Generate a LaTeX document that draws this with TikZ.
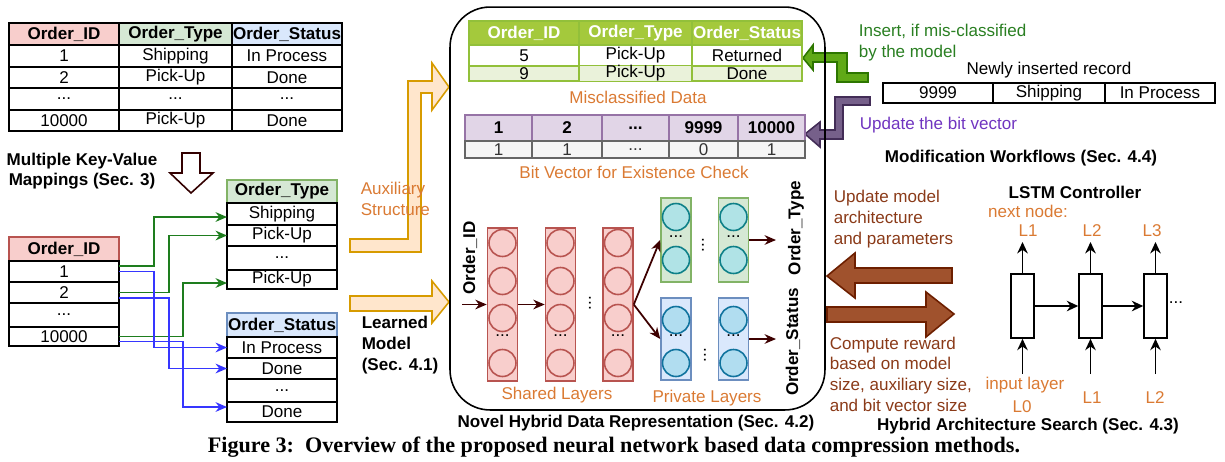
\documentclass[tikz,border=0pt]{standalone}
\usepackage{fontspec}
\setmainfont{Liberation Serif}
\setsansfont{Liberation Sans}
\usetikzlibrary{arrows.meta}

\definecolor{idfill}{HTML}{F8CECC}
\definecolor{iddraw}{HTML}{B85450}
\definecolor{typefill}{HTML}{D5E8D4}
\definecolor{typedraw}{HTML}{82B366}
\definecolor{statfill}{HTML}{DAE8FC}
\definecolor{statdraw}{HTML}{6C8EBF}
\definecolor{mchead}{HTML}{A4C93C}
\definecolor{mcdraw}{HTML}{92C03A}
\definecolor{mclight}{HTML}{EAF2DA}
\definecolor{bvfill}{HTML}{E1D5E7}
\definecolor{bvdraw}{HTML}{9673A6}
\definecolor{bitfill}{HTML}{F5F5F5}
\definecolor{bitdraw}{HTML}{666666}
\definecolor{bittext}{HTML}{333333}
\definecolor{gcfill}{HTML}{B0E3E6}
\definecolor{gcdraw}{HTML}{0E8088}
\definecolor{bcfill}{HTML}{B1DDF0}
\definecolor{bcdraw}{HTML}{10739E}
\definecolor{ortext}{HTML}{DA7A33}
\definecolor{orfill}{HTML}{FFE6CC}
\definecolor{ordraw}{HTML}{D79B00}
\definecolor{insfill}{HTML}{60A917}
\definecolor{insdraw}{HTML}{2D7600}
\definecolor{instext}{HTML}{2A7F22}
\definecolor{updfill}{HTML}{76608A}
\definecolor{upddraw}{HTML}{432D57}
\definecolor{updtext}{HTML}{7035C0}
\definecolor{hasfill}{HTML}{A0522D}
\definecolor{hasdraw}{HTML}{6D1F00}
\definecolor{hastext}{HTML}{8A3A18}
\definecolor{nnred}{HTML}{3D0000}
\definecolor{mapgreen}{HTML}{1E7D1E}
\definecolor{mapblue}{HTML}{3636FF}
\definecolor{kvdraw}{HTML}{330000}

\newcommand{\dfont}{\sffamily\fontsize{9.7}{11.8}\selectfont}

\tikzset{
  cell/.style={draw, inner sep=0pt, outer sep=0pt, font=\dfont},
  hd/.style={cell, font=\dfont\bfseries},
  otext/.style={text=ortext, inner sep=0pt, font=\dfont},
  title/.style={font=\dfont\bfseries, inner sep=0pt},
  shared/.style={draw=iddraw, fill=idfill, inner sep=0pt, minimum width=0.6cm, minimum height=3.06cm},
  scirc/.style={circle, draw=iddraw, fill=idfill, inner sep=0pt, minimum size=0.54cm},
  prigreen/.style={draw=typedraw, fill=typefill, inner sep=0pt, minimum width=0.6cm, minimum height=1.68cm},
  gcirc/.style={circle, draw=gcdraw, fill=gcfill, inner sep=0pt, minimum size=0.54cm},
  priblue/.style={draw=statdraw, fill=statfill, inner sep=0pt, minimum width=0.6cm, minimum height=1.64cm},
  bcirc/.style={circle, draw=bcdraw, fill=bcfill, inner sep=0pt, minimum size=0.54cm},
  ndots/.style={inner sep=0pt, font=\dfont},
  lstm/.style={draw, inner sep=0pt, minimum width=0.46cm, minimum height=1.28cm},
  nnarrow/.style={draw=nnred, line width=1pt, -{Stealth[length=6.5pt,width=5.5pt]}},
  ctrl/.style={line width=1pt, -{Stealth[length=6.5pt,width=6pt]}},
  gline/.style={draw=mapgreen, line width=1.1pt, -{Stealth[length=6.5pt,width=5.5pt]}},
  bline/.style={draw=mapblue, line width=1.1pt, -{Stealth[length=6.5pt,width=5.5pt]}},
}

\begin{document}
\begin{tikzpicture}[x=0.02cm, y=-0.02cm, line width=0.9pt, font=\dfont]

	\useasboundingbox (0,0) rectangle (1225,461);

	% === ORIGINAL TABLE === (((
	\node[hd, fill=idfill, minimum width=2.2cm, minimum height=0.44cm] (t01) at (64,34) {Order\_ID};
	\node[hd, fill=typefill, minimum width=2.26cm, minimum height=0.44cm] (t02) at (175.5,34) {Order\_Type};
	\node[hd, fill=statfill, minimum width=2.2cm, minimum height=0.44cm] (t03) at (287,34) {Order\_Status};

	\node[cell, minimum width=2.2cm, minimum height=0.43cm] (t11) at (64,56) {1};
	\node[cell, minimum width=2.26cm, minimum height=0.43cm] (t12) at (175.5,56) {Shipping};
	\node[cell, minimum width=2.2cm, minimum height=0.43cm] (t13) at (287,56) {In Process};

	\node[cell, minimum width=2.2cm, minimum height=0.43cm] (t21) at (64,77.5) {2};
	\node[cell, minimum width=2.26cm, minimum height=0.43cm] (t22) at (175.5,77.5) {Pick-Up};
	\node[cell, minimum width=2.2cm, minimum height=0.43cm] (t23) at (287,77.5) {Done};

	\node[cell, minimum width=2.2cm, minimum height=0.43cm] (t31) at (64,99) {...};
	\node[cell, minimum width=2.26cm, minimum height=0.43cm] (t32) at (175.5,99) {...};
	\node[cell, minimum width=2.2cm, minimum height=0.43cm] (t33) at (287,99) {...};

	\node[cell, minimum width=2.2cm, minimum height=0.43cm] (t41) at (64,120.5) {10000};
	\node[cell, minimum width=2.26cm, minimum height=0.43cm] (t42) at (175.5,120.5) {Pick-Up};
	\node[cell, minimum width=2.2cm, minimum height=0.43cm] (t43) at (287,120.5) {Done};
	% )))

	% === KEY-VALUE MAPPINGS === (((
	\draw[draw=kvdraw, fill=white] (182,153) -- (200,153) -- (200,173) -- (213,173) -- (191,193) -- (170,173) -- (182,173) -- cycle;
	\node[title, align=center] (kvtitle) at (82,171) {Multiple Key-Value\\Mappings (Sec. 3)};

	\node[hd, fill=idfill, draw=iddraw, minimum width=2.2cm, minimum height=0.48cm] (id0) at (64,249) {Order\_ID};
	\node[cell, minimum width=2.2cm, minimum height=0.42cm] (id1) at (64,271.5) {1};
	\node[cell, minimum width=2.2cm, minimum height=0.42cm] (id2) at (64,292.5) {2};
	\node[cell, minimum width=2.2cm, minimum height=0.48cm] (id3) at (64,315) {...};
	\node[cell, minimum width=2.2cm, minimum height=0.38cm] (id4) at (64,336.5) {10000};

	\node[hd, fill=typefill, draw=typedraw, minimum width=2.2cm, minimum height=0.46cm] (ty0) at (282,191.5) {Order\_Type};
	\node[cell, minimum width=2.2cm, minimum height=0.44cm] (ty1) at (282,214) {Shipping};
	\node[cell, minimum width=2.2cm, minimum height=0.42cm] (ty2) at (282,235.5) {Pick-Up};
	\node[cell, minimum width=2.2cm, minimum height=0.48cm] (ty3) at (282,258) {...};
	\node[cell, minimum width=2.2cm, minimum height=0.38cm] (ty4) at (282,279.5) {Pick-Up};

	\node[hd, fill=statfill, draw=statdraw, minimum width=2.2cm, minimum height=0.48cm] (st0) at (282,325) {Order\_Status};
	\node[cell, minimum width=2.2cm, minimum height=0.42cm] (st1) at (282,347.5) {In Process};
	\node[cell, minimum width=2.2cm, minimum height=0.42cm] (st2) at (282,368.5) {Done};
	\node[cell, minimum width=2.2cm, minimum height=0.46cm] (st3) at (282,390.5) {...};
	\node[cell, minimum width=2.2cm, minimum height=0.40cm] (st4) at (282,412) {Done};

	\draw[gline] ([yshift=0.11cm]id1.east) -- ++(35,0) |- ([yshift=-0.06cm]ty1.west);
	\draw[gline] (id2.east) -- ++(50,0) |- (ty2.west);
	\draw[gline] (id4.east) -- ++(64,0) |- ([yshift=-0.07cm]ty4.west);

	\draw[bline] (id1.east) -- ++(35,0) |- (st1.west);
	\draw[bline] ([yshift=-0.11cm]id2.east) -- ++(50,0) |- (st2.west);
	\draw[bline] ([yshift=-0.1cm]id4.east) -- ++(64,0) |- ([yshift=0.1cm]st4.west);
	% )))

	% === INPUT ARROWS === (((
	\draw[draw=ordraw, fill=orfill] (350,239) -- (408,239) -- (408,81) -- (432,81) -- (432,63) -- (449,87) -- (432,110) -- (432,93) -- (421,93) -- (421,252) -- (350,252) -- cycle;
	\draw[draw=ordraw, fill=orfill] (350,296) -- (432,296) -- (432,281) -- (449,302) -- (432,323) -- (432,311) -- (350,311) -- cycle;

	\node[otext, anchor=west, align=left] (aux) at (360,199) {Auxiliary\\Structure};
	\node[title, anchor=west, align=left] (learned) at (361,345) {Learned\\Model\\(Sec. 4.1)};
	% )))

	% === MODIFICATION ARROWS === (((
	\draw[draw=insdraw, fill=insfill] (803,58) -- (813,45) -- (813,53) -- (847,53) -- (847,73) -- (868,73) -- (868,82) -- (837,82) -- (837,62) -- (813,62) -- (813,70) -- cycle;
	\draw[draw=upddraw, fill=updfill] (805,134) -- (820,122) -- (820,130) -- (835,130) -- (835,97) -- (870,97) -- (870,105) -- (843,105) -- (843,139) -- (820,139) -- (820,147) -- cycle;
	% )))

	% === HYBRID REPRESENTATION === (((
	\node[draw, rounded corners=0.8cm, inner sep=0pt, minimum width=7.5cm, minimum height=8.06cm] (hybrid) at (637.5,208.5) {};
	\node[title] (hybtitle) at (636,423) {Novel Hybrid Data Representation (Sec. 4.2)};

	\node[hd, fill=mchead, draw=mcdraw, text=white, minimum width=2.2cm, minimum height=0.48cm] (mc01) at (524,33) {Order\_ID};
	\node[hd, fill=mchead, draw=mcdraw, text=white, minimum width=2.26cm, minimum height=0.48cm] (mc02) at (635.5,33) {Order\_Type};
	\node[hd, fill=mchead, draw=mcdraw, text=white, minimum width=2.2cm, minimum height=0.48cm] (mc03) at (747,33) {Order\_Status};

	\node[cell, fill=white, draw=mcdraw, minimum width=2.2cm, minimum height=0.42cm] (mc11) at (524,55.5) {5};
	\node[cell, fill=white, draw=mcdraw, minimum width=2.26cm, minimum height=0.42cm] (mc12) at (635.5,55.5) {Pick-Up};
	\node[cell, fill=white, draw=mcdraw, minimum width=2.2cm, minimum height=0.42cm] (mc13) at (747,55.5) {Returned};

	\node[cell, fill=mclight, draw=mcdraw, minimum width=2.2cm, minimum height=0.3cm] (mc21) at (524,73.5) {9};
	\node[cell, fill=mclight, draw=mcdraw, minimum width=2.26cm, minimum height=0.3cm] (mc22) at (635.5,73.5) {Pick-Up};
	\node[cell, fill=mclight, draw=mcdraw, minimum width=2.2cm, minimum height=0.3cm] (mc23) at (747,73.5) {Done};

	\node[otext] (mclabel) at (638,97) {Misclassified Data};

	\node[hd, fill=bvfill, draw=bvdraw, minimum width=1.34cm, minimum height=0.52cm] (bv01) at (498.5,128) {1};
	\node[hd, fill=bvfill, draw=bvdraw, minimum width=1.4cm, minimum height=0.52cm] (bv02) at (567,128) {2};
	\node[hd, fill=bvfill, draw=bvdraw, minimum width=1.34cm, minimum height=0.52cm] (bv03) at (635.5,128) {...};
	\node[hd, fill=bvfill, draw=bvdraw, minimum width=1.38cm, minimum height=0.52cm] (bv04) at (703.5,128) {9999};
	\node[hd, fill=bvfill, draw=bvdraw, minimum width=1.34cm, minimum height=0.52cm] (bv05) at (771.5,128) {10000};

	\node[cell, fill=bitfill, draw=bitdraw, text=bittext, minimum width=1.34cm, minimum height=0.34cm] (bv11) at (498.5,149.5) {1};
	\node[cell, fill=bitfill, draw=bitdraw, text=bittext, minimum width=1.4cm, minimum height=0.34cm] (bv12) at (567,149.5) {1};
	\node[cell, fill=bitfill, draw=bitdraw, text=bittext, minimum width=1.34cm, minimum height=0.34cm] (bv13) at (635.5,149.5) {...};
	\node[cell, fill=bitfill, draw=bitdraw, text=bittext, minimum width=1.38cm, minimum height=0.34cm] (bv14) at (703.5,149.5) {0};
	\node[cell, fill=bitfill, draw=bitdraw, text=bittext, minimum width=1.34cm, minimum height=0.34cm] (bv15) at (771.5,149.5) {1};

	\node[otext] (bvlabel) at (634,172) {Bit Vector for Existence Check};
	% )))

	% === NETWORK === (((
	\node[shared] (sl1) at (502.5,304.5) {};
	\node[scirc] (s11) at (502.5,243) {};
	\node[scirc] (s12) at (502.5,281) {};
	\node[scirc] (s13) at (502.5,318) {};
	\node[ndots] at (502.5,336) {...};
	\node[scirc] (s14) at (502.5,363) {};

	\node[shared] (sl2) at (560.5,304.5) {};
	\node[scirc] (s21) at (560.5,243) {};
	\node[scirc] (s22) at (560.5,281) {};
	\node[scirc] (s23) at (560.5,318) {};
	\node[ndots] at (560.5,336) {...};
	\node[scirc] (s24) at (560.5,363) {};

	\node[ndots, rotate=90] at (590,303) {...};

	\node[shared] (sl3) at (618,304.5) {};
	\node[scirc] (s31) at (618,243) {};
	\node[scirc] (s32) at (618,281) {};
	\node[scirc] (s33) at (618,318) {};
	\node[ndots] at (618,336) {...};
	\node[scirc] (s34) at (618,363) {};

	\node[prigreen] (gr1) at (676,240) {};
	\node[gcirc] (g11) at (676,217) {};
	\node[ndots] at (676,237) {...};
	\node[gcirc] (g12) at (676,260) {};

	\node[ndots, rotate=90] at (703,245) {...};

	\node[prigreen] (gr2) at (733.5,240) {};
	\node[gcirc] (g21) at (733.5,217) {};
	\node[ndots] at (733.5,237) {...};
	\node[gcirc] (g22) at (733.5,260) {};

	\node[priblue] (bl1) at (676,339) {};
	\node[bcirc] (b11) at (676,320) {};
	\node[ndots] at (676,336) {...};
	\node[bcirc] (b12) at (676,363) {};

	\node[ndots, rotate=90] at (705,355) {...};

	\node[priblue] (bl2) at (733.5,339) {};
	\node[bcirc] (b21) at (733.5,320) {};
	\node[ndots] at (733.5,336) {...};
	\node[bcirc] (b22) at (733.5,363) {};

	\node[title, rotate=90] (inlabel) at (470,258) {Order\_ID};
	\node[title, rotate=90] (outtype) at (796,228) {Order\_Type};
	\node[title, rotate=90] (outstat) at (793,342) {Order\_Status};

	\coordinate (nnin) at (462,304.5);
	\coordinate (outT) at (776,240);
	\coordinate (outS) at (776,339);

	\draw[nnarrow] (nnin) -- (sl1.west);
	\draw[nnarrow] (sl1.east) -- (sl2.west);
	\draw[nnarrow] (sl3.east) -- (gr1.west);
	\draw[nnarrow] (sl3.east) -- (bl1.west);
	\draw[nnarrow] (gr2.east) -- (outT);
	\draw[nnarrow] (bl2.east) -- (outS);

	\node[otext] (shlabel) at (557,395) {Shared Layers};
	\node[otext] (prlabel) at (707,398) {Private Layers};
	% )))

	% === MODIFICATION WORKFLOWS === (((
	\node[text=instext, anchor=west, align=left, inner sep=0pt] (instxt) at (858,42.5) {Insert, if mis-classified\\by the model};
	\node[inner sep=0pt] (nrtitle) at (1049,70) {Newly inserted record};
	\node[cell, minimum width=2.2cm, minimum height=0.4cm] (nr1) at (938,93) {9999};
	\node[cell, minimum width=2.24cm, minimum height=0.4cm] (nr2) at (1049,93) {Shipping};
	\node[cell, minimum width=2.2cm, minimum height=0.4cm] (nr3) at (1160,93) {In Process};
	\node[text=updtext, anchor=west, inner sep=0pt] (updtxt) at (859,125) {Update the bit vector};
	\node[title] (modtitle) at (1021,158) {Modification Workflows (Sec. 4.4)};
	% )))

	% === ARCHITECTURE SEARCH === (((
	\draw[draw=hasdraw, fill=hasfill] (952,268) -- (855,268) -- (855,253) -- (827,276) -- (855,298) -- (855,283) -- (952,283) -- cycle;
	\draw[draw=hasdraw, fill=hasfill] (827,307) -- (926,307) -- (926,292) -- (954,314) -- (926,337) -- (926,322) -- (827,322) -- cycle;

	\node[text=hastext, anchor=west, align=left, inner sep=0pt] (updmodel) at (833,219) {Update model\\architecture\\and parameters};
	\node[text=hastext, anchor=west, align=left, inner sep=0pt] (reward) at (829,374) {Compute reward\\based on model\\size, auxiliary size,\\and bit vector size};

	\node[title] (lstmtitle) at (1075,192) {LSTM Controller};
	\node[otext] (nextnode) at (1028,211) {next node:};

	\node[lstm] (lb1) at (1022.5,306) {};
	\node[lstm] (lb2) at (1090.5,306) {};
	\node[lstm] (lb3) at (1155.5,306) {};
	\node[ndots] (more) at (1176,303) {...};

	\node[otext] (nx1) at (1028,231) {L1};
	\node[otext] (nx2) at (1092,231) {L2};
	\node[otext] (nx3) at (1152,231) {L3};

	\node[otext] (inlayer) at (1025,385) {input layer};
	\node[otext] (in0) at (1022,407) {L0};
	\node[otext] (in1) at (1092,398) {L1};
	\node[otext] (in2) at (1155,398) {L2};

	\coordinate (up1) at (1022.5,242);
	\coordinate (up2) at (1090.5,242);
	\coordinate (up3) at (1155.5,242);
	\coordinate (dn1) at (1022.5,374);
	\coordinate (dn2) at (1090.5,374);
	\coordinate (dn3) at (1155.5,374);

	\draw[ctrl] (lb1.north) -- (up1);
	\draw[ctrl] (lb2.north) -- (up2);
	\draw[ctrl] (lb3.north) -- (up3);
	\draw[ctrl] (dn1) -- (lb1.south);
	\draw[ctrl] (dn2) -- (lb2.south);
	\draw[ctrl] (dn3) -- (lb3.south);
	\draw[ctrl] (lb1.east) -- (lb2.west);
	\draw[ctrl] (lb2.east) -- (lb3.west);

	\node[title] (hastitle) at (1028,426) {Hybrid Architecture Search (Sec. 4.3)};
	% )))

	\node[font=\rmfamily\bfseries\fontsize{12.6}{14}\selectfont, inner sep=0pt] (caption) at (614,447) {Figure 3:\enspace Overview of the proposed neural network based data compression methods.};

\end{tikzpicture}
\end{document}
